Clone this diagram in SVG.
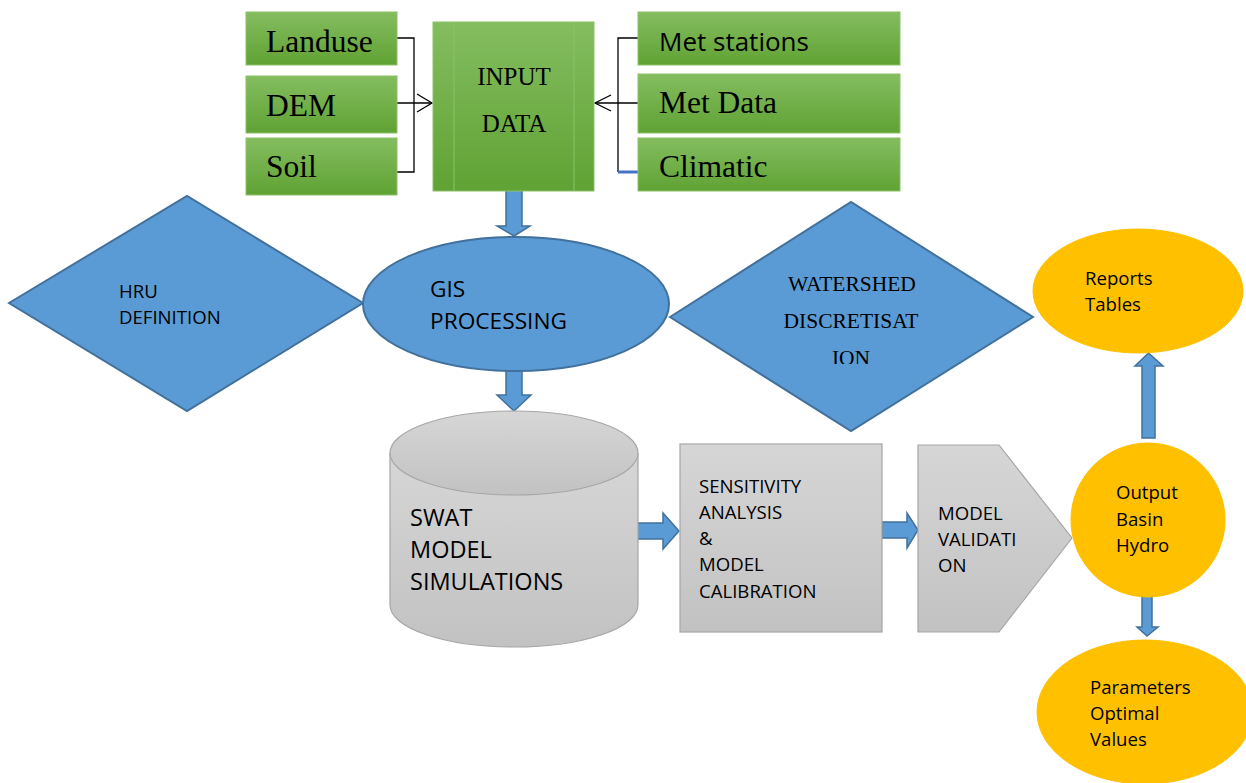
<svg xmlns="http://www.w3.org/2000/svg" width="1246" height="783" viewBox="0 0 1246 783">
<defs>
<linearGradient id="gGreen" x1="0" y1="0" x2="0" y2="1"><stop offset="0" stop-color="#84bd5f"/><stop offset="1" stop-color="#60a234"/></linearGradient>
<linearGradient id="gGray" x1="0" y1="0" x2="0" y2="1"><stop offset="0" stop-color="#d6d6d6"/><stop offset="1" stop-color="#c2c2c2"/></linearGradient>
<clipPath id="clipWs"><rect x="670" y="200" width="365" height="164"/></clipPath>
</defs>
<style>
.green{fill:url(#gGreen);stroke:#8cc168;stroke-width:1}
.blue{fill:#5b9bd5;stroke:#41719c;stroke-width:2}
.gray{fill:url(#gGray);stroke:#a6a6a6;stroke-width:1.2}
.yellow{fill:#ffc000;stroke:#ffc000;stroke-width:1}
.barrow{fill:#5b9bd5;stroke:#41719c;stroke-width:1.5;stroke-linejoin:miter}
.line{fill:none;stroke:#000;stroke-width:1.3}
.tnr{font-family:"Liberation Serif","Times New Roman",serif;fill:#000}
.sans{font-family:"Open Sans","Liberation Sans",sans-serif;fill:#000}
.s18{font-size:18.6px}
</style>
<rect width="1246" height="783" fill="#fff"/>

<g id="connectors">
<polyline class="line" points="397,38 414,38 414,172 397,172"/>
<line class="line" x1="397" y1="103" x2="432" y2="103"/>
<polyline class="line" points="417,94 432,103 417,112"/>
<polyline class="line" points="638,38 618,38 618,172"/>
<line class="line" x1="638" y1="103" x2="595" y2="103"/>
<polyline class="line" points="611,95 595,103 611,111"/>
<line x1="618" y1="172" x2="638" y2="172" stroke="#4472c4" stroke-width="3"/>
<polygon class="barrow" points="506,190 522,190 522,226 530,226 514,236 497,226 506,226"/>
<polygon class="barrow" points="506,369 522,369 522,395 531,395 514,411 497,395 506,395"/>
<polygon class="barrow" points="637,523 663,523 663,513 679,531 663,549 663,539 637,539"/>
<polygon class="barrow" points="882,522 907,522 907,513 918,530 907,548 907,538 882,538"/>
<polygon class="barrow" points="1142,438 1142,366 1135,366 1148.5,353 1163,366 1155,366 1155,438"/>
<polygon class="barrow" points="1142,592 1152,592 1152,627 1158,627 1147,636 1137,627 1142,627"/>
</g>

<g id="landuse"><rect class="green" x="246" y="12" width="151" height="53"/><text class="tnr" x="266" y="52" font-size="31.5">Landuse</text></g>
<g id="dem"><rect class="green" x="246" y="76" width="151" height="57"/><text class="tnr" x="266" y="116" font-size="31.5">DEM</text></g>
<g id="soil"><rect class="green" x="246" y="138" width="151" height="57"/><text class="tnr" x="266" y="177" font-size="31.5">Soil</text></g>

<g id="input-data">
<rect class="green" x="433" y="22" width="161" height="169"/>
<line x1="454" y1="22" x2="454" y2="191" stroke="#8cc168" stroke-width="1"/>
<line x1="574" y1="22" x2="574" y2="191" stroke="#8cc168" stroke-width="1"/>
<text class="tnr" x="514" y="85" font-size="25" text-anchor="middle">INPUT</text>
<text class="tnr" x="514" y="132" font-size="25" text-anchor="middle">DATA</text>
</g>

<g id="met-stations"><rect class="green" x="638" y="12" width="262" height="53"/><text class="sans" x="659" y="51" font-size="26">Met stations</text></g>
<g id="met-data"><rect class="green" x="638" y="74" width="262" height="59"/><text class="tnr" x="659" y="113" font-size="31.5">Met Data</text></g>
<g id="climatic"><rect class="green" x="638" y="138" width="262" height="53"/><text class="tnr" x="659" y="177" font-size="31.5">Climatic</text></g>

<g id="hru-definition">
<polygon class="blue" points="9,303 187,196 363,303 187,411"/>
<text class="sans s18" x="119" y="298">HRU</text>
<text class="sans s18" x="119" y="324">DEFINITION</text>
</g>

<g id="gis-processing">
<ellipse class="blue" cx="516" cy="304" rx="153" ry="67"/>
<text class="sans" x="430" y="297" font-size="22.7">GIS</text>
<text class="sans" x="430" y="329" font-size="22.7">PROCESSING</text>
</g>

<g id="watershed-discretisation">
<polygon class="blue" points="670,317 851,202 1033,317 851,431"/>
<g clip-path="url(#clipWs)">
<text class="tnr" x="852" y="291" font-size="21.5" text-anchor="middle">WATERSHED</text>
<text class="tnr" x="851" y="328" font-size="21.5" text-anchor="middle">DISCRETISAT</text>
<text class="tnr" x="851" y="365" font-size="21.5" text-anchor="middle">ION</text>
</g>
</g>

<g id="swat-model">
<path class="gray" d="M390,453 L390,605 A124,42 0 0 0 638,605 L638,453"/>
<ellipse class="gray" cx="514" cy="453" rx="124" ry="42"/>
<text class="sans" x="410" y="526" font-size="23.5">SWAT</text>
<text class="sans" x="410" y="558" font-size="23.5">MODEL</text>
<text class="sans" x="410" y="590" font-size="23.5">SIMULATIONS</text>
</g>

<g id="sensitivity-calibration">
<rect class="gray" x="680" y="444" width="202" height="188"/>
<text class="sans s18" x="699" y="493">SENSITIVITY</text>
<text class="sans s18" x="699" y="519">ANALYSIS</text>
<text class="sans s18" x="699" y="545">&amp;</text>
<text class="sans s18" x="699" y="571">MODEL</text>
<text class="sans s18" x="699" y="598">CALIBRATION</text>
</g>

<g id="model-validation">
<polygon class="gray" points="918,445 999,445 1072,538 999,632 918,632"/>
<text class="sans s18" x="938" y="520">MODEL</text>
<text class="sans s18" x="938" y="546">VALIDATI</text>
<text class="sans s18" x="938" y="572">ON</text>
</g>

<g id="reports-tables">
<ellipse class="yellow" cx="1138" cy="291" rx="105" ry="62"/>
<text class="sans s18" x="1085" y="285">Reports</text>
<text class="sans s18" x="1085" y="311">Tables</text>
</g>

<g id="output-basin-hydro">
<ellipse class="yellow" cx="1148" cy="520" rx="77" ry="77" stroke="#fff" stroke-width="2"/>
<text class="sans s18" x="1116" y="499">Output</text>
<text class="sans s18" x="1116" y="526">Basin</text>
<text class="sans s18" x="1116" y="552">Hydro</text>
</g>

<g id="parameters-optimal">
<ellipse class="yellow" cx="1145" cy="712" rx="108" ry="72"/>
<text class="sans s18" x="1090" y="694">Parameters</text>
<text class="sans s18" x="1090" y="720">Optimal</text>
<text class="sans s18" x="1090" y="746">Values</text>
</g>
</svg>
